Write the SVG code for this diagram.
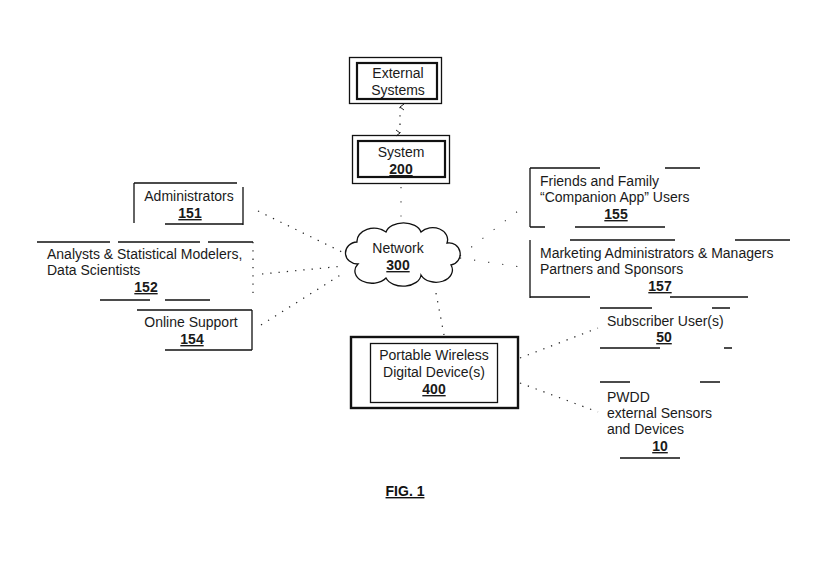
<svg xmlns="http://www.w3.org/2000/svg" width="840" height="564" viewBox="0 0 840 564">
<defs>
<style>
.t{font-family:"Liberation Sans",Arial,sans-serif;font-size:14px;fill:#1a1a1a}
.c{text-anchor:middle}
.n{font-weight:bold;text-decoration:underline}
.b{fill:none;stroke:#111;stroke-width:1.3}
.bb{fill:none;stroke:#111;stroke-width:2.2}
.d{fill:none;stroke:#222;stroke-width:1.2;stroke-dasharray:1.3 7}
.s{fill:none;stroke:#333;stroke-width:1.1;stroke-dasharray:1.2 13}
</style>
<marker id="ah" markerWidth="8" markerHeight="8" refX="4" refY="1" orient="auto-start-reverse" markerUnits="userSpaceOnUse">
<path d="M1,5 L4,1 L7,5" fill="none" stroke="#222" stroke-width="1"/>
</marker>
</defs>
<rect width="840" height="564" fill="#fff"/>

<g id="connectors">
<line class="d" x1="400" y1="107" x2="400" y2="133" marker-start="url(#ah)" marker-end="url(#ah)"/>
<line class="s" x1="401" y1="187" x2="401" y2="228"/>
<line class="d" x1="258" y1="211" x2="342" y2="252"/>
<line class="d" x1="262" y1="274" x2="344" y2="266"/>
<line class="d" x1="261" y1="325" x2="342" y2="274"/>
<line class="s" x1="460" y1="256" x2="527" y2="204"/>
<line class="s" x1="460" y1="258" x2="527" y2="268"/>
<line class="d" x1="436" y1="293" x2="444" y2="335"/>
<line class="d" x1="520" y1="358" x2="598" y2="328"/>
<line class="d" x1="520" y1="383" x2="598" y2="412"/>
</g>

<g id="external-systems">
<rect class="b" x="349.5" y="57.5" width="92" height="46"/>
<rect class="bb" x="357" y="63" width="80" height="36"/>
<text class="t c" x="398" y="78">External</text>
<text class="t c" x="398" y="95">Systems</text>
</g>

<g id="system">
<rect class="b" x="352.5" y="135.5" width="97" height="48"/>
<rect class="bb" x="358" y="141" width="87" height="36"/>
<text class="t c" x="401" y="157">System</text>
<text class="t c n" x="401" y="174">200</text>
</g>

<g id="network">
<path class="b" stroke-width="1.6" d="M358,264 A12,11 0 1 1 357,242 A17,13 0 0 1 386,232 A18,12 0 0 1 421,232 A15,12 0 0 1 447,243 A11,11 0 0 1 451,265 A16,12 0 0 1 421,275 A18,12 0 0 1 386,278 A14,10 0 0 1 358,264 Z"/>
<text class="t c" x="398" y="253">Network</text>
<text class="t c n" x="398" y="270">300</text>
</g>

<g id="administrators">
<path class="b" d="M134,183 V223 M134,183 H237 M243,187 V225 M165,224 H243"/>
<text class="t c" x="189" y="201">Administrators</text>
<text class="t c n" x="190" y="218">151</text>
</g>

<g id="analysts">
<path class="b" d="M37,242 H110 M118,242 H200 M208,242 H253 M165,300 H210 M100,300 H150"/>
<path class="d" d="M253,242 V300"/>
<text class="t" x="47" y="259">Analysts &amp; Statistical Modelers,</text>
<text class="t" x="47" y="275">Data Scientists</text>
<text class="t c n" x="146" y="292">152</text>
</g>

<g id="online-support">
<path class="b" d="M137,310 H252 M252,310 V350 M165,350 H252"/>
<text class="t c" x="191" y="327">Online Support</text>
<text class="t c n" x="192" y="344">154</text>
</g>

<g id="friends-family">
<path class="b" d="M530,168 V227 M530,168 H600 M665,168 H700 M530,227 H545 M575,227 H665"/>
<text class="t" x="540" y="186">Friends and Family</text>
<text class="t" x="540" y="202">“Companion App” Users</text>
<text class="t c n" x="616" y="219">155</text>
</g>

<g id="marketing">
<path class="b" d="M570,240 H675 M735,240 H790 M530,240 V298 M530,297 H590 M670,297 H748"/>
<text class="t" x="540" y="258">Marketing Administrators &amp; Managers</text>
<text class="t" x="540" y="274">Partners and Sponsors</text>
<text class="t c n" x="660" y="291">157</text>
</g>

<g id="pwdd">
<rect x="351" y="337" width="167" height="71" fill="none" stroke="#111" stroke-width="2.4"/>
<rect class="b" x="370.5" y="343.5" width="127" height="59" stroke-width="1"/>
<text class="t c" x="434" y="360">Portable Wireless</text>
<text class="t c" x="434" y="377">Digital Device(s)</text>
<text class="t c n" x="434" y="394">400</text>
</g>

<g id="subscriber">
<path class="b" d="M600,308 H652 M712,308 H730 M600,348 H660 M724,348 H732"/>
<text class="t" x="607" y="326">Subscriber User(s)</text>
<text class="t c n" x="664" y="342">50</text>
</g>

<g id="sensors">
<path class="b" d="M600,382 H630 M700,382 H720 M620,458 H680"/>
<text class="t" x="607" y="402">PWDD</text>
<text class="t" x="607" y="418">external Sensors</text>
<text class="t" x="607" y="434">and Devices</text>
<text class="t c n" x="660" y="451">10</text>
</g>

<text x="405" y="496" font-family="'Liberation Sans',Arial,sans-serif" font-size="14" font-weight="bold" text-anchor="middle" text-decoration="underline" fill="#111">FIG. 1</text>
</svg>
